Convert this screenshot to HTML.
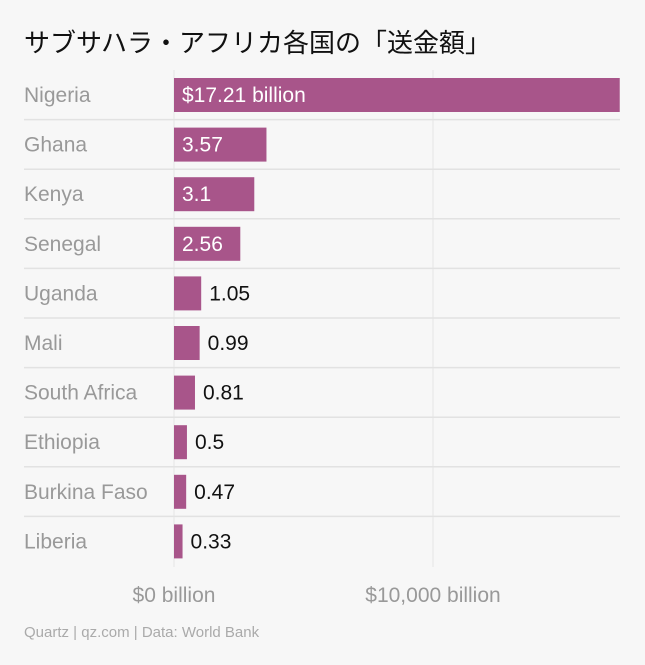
<!DOCTYPE html>
<html><head><meta charset="utf-8"><style>
body{margin:0;background:#f7f7f7;}
svg{display:block;font-family:"Liberation Sans","Noto Sans CJK JP",sans-serif;}
</style></head><body>
<svg id="c" width="645" height="665">
<text x="24" y="52" font-size="26" font-weight="400" fill="#111">サブサハラ・アフリカ各国の「送金額」</text>
<text x="24" y="637" font-size="15" fill="#aaa">Quartz | qz.com | Data: World Bank</text>
</svg>
<script>
const countries=["Nigeria","Ghana","Kenya","Senegal","Uganda","Mali","South Africa","Ethiopia","Burkina Faso","Liberia"];
const values=[17.21,3.57,3.1,2.56,1.05,0.99,0.81,0.5,0.47,0.33];
const valueLabels=["$17.21 billion","3.57","3.1","2.56","1.05","0.99","0.81","0.5","0.47","0.33"];
const ticks=[0,10];
const tickLabels=["$0 billion","$10,000 billion"];
const svg=document.getElementById('c');
const NS='http://www.w3.org/2000/svg';
const x0=174,pxPer=25.9,top0=78,step=49.6,bh=34;
const xs=v=>x0+v*pxPer;
const yb=i=>top0+i*step;
function mk(t,a){const e=document.createElementNS(NS,t);for(const k in a)e.setAttribute(k,a[k]);svg.appendChild(e);return e;}
ticks.forEach((t,i)=>{
 const l=mk('line',{x1:xs(t),x2:xs(t),y1:70,y2:567,stroke:'#e6e6e6','stroke-width':1});
 
 
 const tx=mk('text',{x:xs(t),y:602,'font-size':21,fill:'#999','text-anchor':'middle'});
 tx.textContent=tickLabels[i];
 
 
});
countries.forEach((c,i)=>{
 const y=yb(i);
 if(i>0){const s=mk('line',{x1:24,x2:620,y1:y-8,y2:y-8,stroke:'#e2e2e2','stroke-width':1.5});
 
 }
 const lb=mk('text',{x:24,y:y+bh/2+7,'font-size':21,fill:'#999'});
 lb.textContent=c;
 
 
 const w=xs(values[i])-x0;
 const r=mk('rect',{x:x0,y:y,width:w,height:bh,fill:'#a8558a'});
 
 
 const inside=values[i]>=2;
 const vt=mk('text',{x:inside?x0+8:xs(values[i])+8,y:y+bh/2+7,'font-size':21,fill:inside?'#fff':'#111'});
 vt.textContent=valueLabels[i];
 
 
});
</script>
</body></html>
